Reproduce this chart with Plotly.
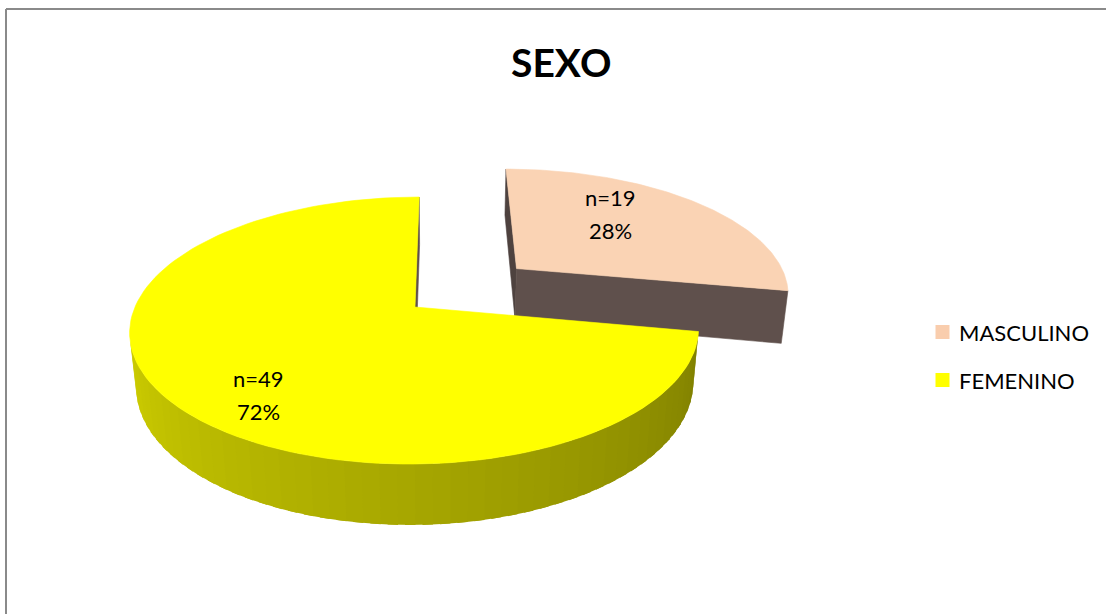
import numpy as np
import plotly.graph_objects as go

# --- data -------------------------------------------------------------
categories = ["MASCULINO", "FEMENINO"]
counts = [19, 49]
top_colors = ["#FAD3B4", "#FFFF00"]
legend_colors = ["#F9CDAD", "#FFFF00"]
explode = [0.49, 0.0]
title_text = "SEXO"

# --- pseudo-3D projection settings -----------------------------------
CX, CY, K = 415.0, 307.0, 280.0          # screen centre and scale (px)
SIN_T, COS_T = 0.462, 0.887              # camera elevation
DIST = 5.03                              # perspective distance
CAM_X = 0.1                              # slight horizontal camera shift
THICK = 0.22                             # pie thickness
CAM = np.array([CAM_X, DIST * SIN_T, DIST * COS_T])


def project(p):
    x, y, z = p
    v = y * COS_T - z * SIN_T
    w = y * SIN_T + z * COS_T
    s = DIST / (DIST - w)
    return CX + K * ((x - CAM_X) * s + CAM_X), CY - K * v * s


def rim(theta, off, y=0.0):
    return np.array([np.sin(theta) + off[0], y, -np.cos(theta) + off[2]])


def poly_trace(points, color, lw=0.6):
    xy = [project(p) for p in points]
    xs = [a for a, _ in xy] + [xy[0][0]]
    ys = [b for _, b in xy] + [xy[0][1]]
    return go.Scatter(x=xs, y=ys, mode="lines", fill="toself",
                      fillcolor=color, line=dict(width=lw, color=color),
                      hoverinfo="skip", showlegend=False)


def shade(hex_color, f):
    h = hex_color.lstrip("#")
    r, g, b = (int(h[i:i + 2], 16) for i in (0, 2, 4))
    return f"rgb({int(r * f)},{int(g * f)},{int(b * f)})"


total = sum(counts)
fractions = [c / total for c in counts]
percents = [round(100 * f) for f in fractions]

traces = []
starts = np.cumsum([0] + fractions[:-1]) * 2 * np.pi
ends = np.cumsum(fractions) * 2 * np.pi

for i, cat in enumerate(categories):
    a, b = starts[i], ends[i]
    mid = (a + b) / 2
    off = np.array([explode[i] * np.sin(mid), 0.0, -explode[i] * np.cos(mid)])
    centre_top = off.copy()
    centre_bot = off + np.array([0.0, -THICK, 0.0])
    is_light = i == 1

    # outer curved side, split into shaded strips that overlap slightly
    n_seg = max(4, int((b - a) / np.radians(3)))
    th = np.linspace(a, b, n_seg + 1)
    step = th[1] - th[0]
    for t0, t1 in zip(th[:-1], th[1:]):
        tm = (t0 + t1) / 2
        normal = np.array([np.sin(tm), 0.0, -np.cos(tm)])
        if normal @ (CAM - rim(tm, off)) <= 0:
            continue
        deg = np.degrees(tm) % 360
        if is_light:
            f = 0.50 + 0.33 * np.clip((deg - 100) / 170, 0, 1)
            col = shade(top_colors[i], f)
        else:
            col = "rgb(88,75,71)"
        t1e = min(t1 + 0.6 * step, b)
        seg = np.linspace(t0, t1e, 4)
        pts = [rim(t, off) for t in seg] + [rim(t, off, -THICK) for t in seg[::-1]]
        traces.append(poly_trace(pts, col, lw=0))

    # radial cut faces
    for ang, sign, col in ((a, -1, "rgb(78,66,63)"), (b, 1, "rgb(95,80,76)")):
        outward = sign * np.array([np.cos(ang), 0.0, np.sin(ang)])
        if outward @ (CAM - centre_top) <= 1e-9:
            continue
        traces.append(poly_trace([centre_top, rim(ang, off),
                                  rim(ang, off, -THICK), centre_bot], col))

    # top face
    arc = np.linspace(a, b, 120)
    traces.append(poly_trace([centre_top] + [rim(t, off) for t in arc], top_colors[i]))

# legend swatches
legend_y = [332, 380]
traces.append(go.Scatter(x=[942.5, 942.5], y=legend_y, mode="markers",
                         marker=dict(symbol="square", size=14, color=legend_colors),
                         hoverinfo="skip", showlegend=False))

fig = go.Figure(traces)

FONT = "Lato, 'Open Sans', sans-serif"
annotations = [dict(x=561, y=62, text=f"<b>{title_text}</b>", showarrow=False,
                    font=dict(family=FONT, size=39, color="#000000"),
                    xanchor="center", yanchor="middle")]

for cat, ly in zip(categories, legend_y):
    annotations.append(dict(x=957, y=ly, text=cat, showarrow=False, xanchor="left",
                            yanchor="middle", font=dict(family=FONT, size=22, color="#000000")))

label_pos = [(610, 197, 230), (258, 378, 411)]
for (lx, y1, y2), c, p in zip(label_pos, counts, percents):
    annotations.append(dict(x=lx, y=y1, text=f"n={c}", showarrow=False, xanchor="center",
                            yanchor="middle", font=dict(family=FONT, size=22, color="#000000")))
    annotations.append(dict(x=lx, y=y2, text=f"{p}%", showarrow=False, xanchor="center",
                            yanchor="middle", font=dict(family=FONT, size=22, color="#000000")))

border = dict(color="#8A8A8A", width=2)
fig.update_layout(
    width=1106, height=614,
    margin=dict(l=0, r=0, t=0, b=0),
    paper_bgcolor="white", plot_bgcolor="white",
    xaxis=dict(range=[0, 1106], visible=False, fixedrange=True),
    yaxis=dict(range=[614, 0], visible=False, fixedrange=True),
    annotations=annotations,
    shapes=[
        dict(type="line", xref="paper", yref="y", x0=6 / 1106, x1=1.0, y0=9, y1=9, line=border),
        dict(type="line", xref="x", yref="paper", x0=6, x1=6, y0=0.0, y1=1 - 9 / 614, line=border),
    ],
    showlegend=False,
)

fig.write_html("out.html")
